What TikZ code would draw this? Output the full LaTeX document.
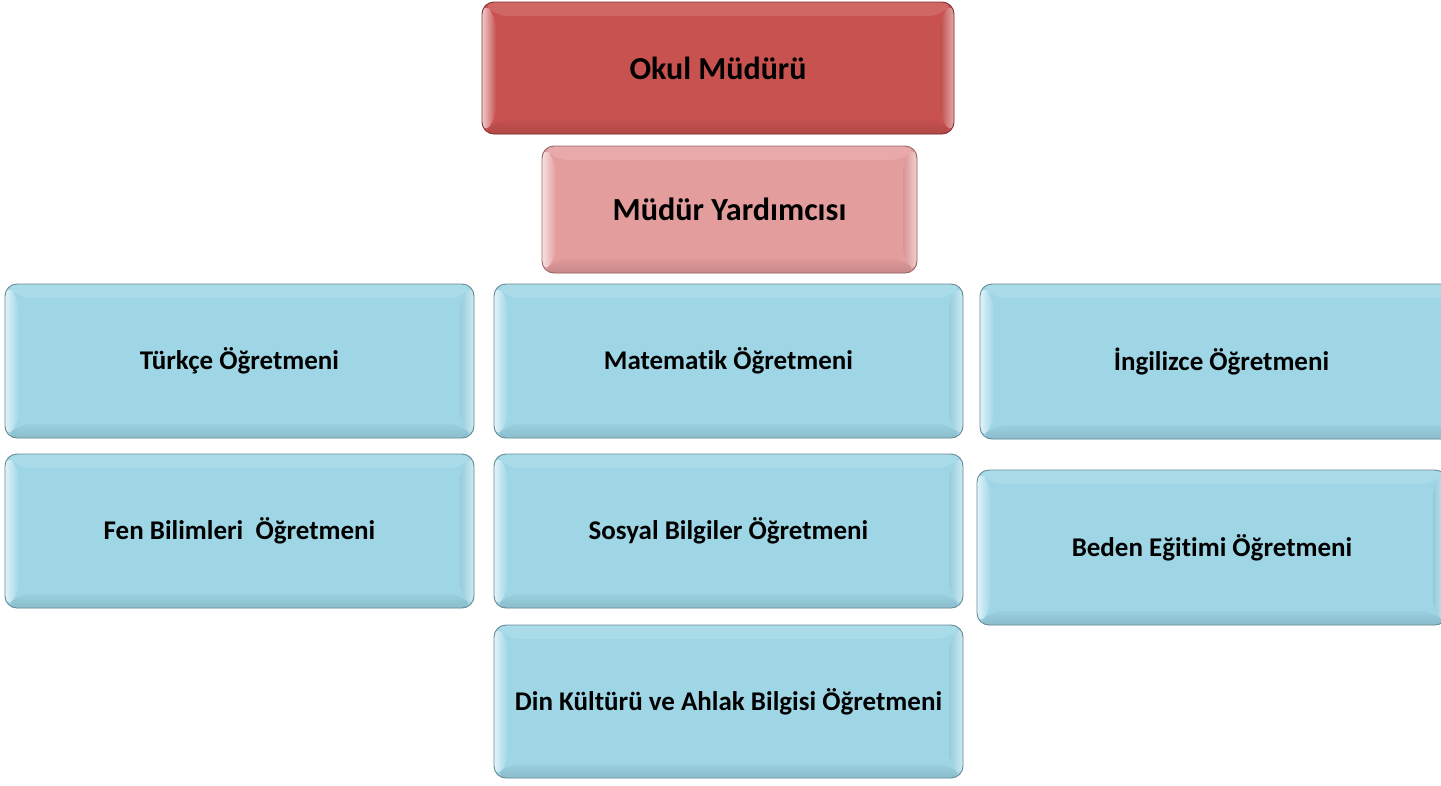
\documentclass[tikz,border=0pt]{standalone}
\usepackage{fontspec}
\setmainfont{Carlito}[RawFeature={-liga;-dlig;-clig}]
\usetikzlibrary{calc}
\definecolor{redbox}{RGB}{200,82,80}
\definecolor{pinkbox}{RGB}{228,157,157}
\definecolor{bluebox}{RGB}{158,214,230}
\tikzset{
  bevel/.style={rectangle, rounded corners=12pt, fill=#1, draw=#1!65!black, line width=0.9pt,
    inner sep=0pt, font=\bfseries,
    path picture={
      \path (path picture bounding box.south west) coordinate (pSW)
            (path picture bounding box.north east) coordinate (pNE)
            (path picture bounding box.north west) coordinate (pNW)
            (path picture bounding box.south east) coordinate (pSE);
      \fill[#1!88!white] (pNW) -- (pNE) -- ($(pNE)+(-14,14)$) -- ($(pNW)+(14,14)$) -- cycle;
      \shade[left color=white!70!#1, right color=#1] (pNW) -- (pSW) -- ($(pSW)+(14,-14)$) -- ($(pNW)+(14,14)$) -- cycle;
      \shade[left color=#1!95!black, right color=white!50!#1] (pNE) -- (pSE) -- ($(pSE)+(-14,-14)$) -- ($(pNE)+(-14,14)$) -- cycle;
      \shade[top color=#1!97!black, bottom color=#1!88!black] (pSW) -- (pSE) -- ($(pSE)+(-14,-14)$) -- ($(pSW)+(14,-14)$) -- cycle;
    }},
  chief/.style={bevel=redbox, font=\fontsize{32}{36}\selectfont\bfseries},
  deputy/.style={bevel=pinkbox, font=\fontsize{32.2}{36}\selectfont\bfseries},
  teacher/.style={bevel=bluebox, font=\fontsize{27}{30}\selectfont\bfseries}
}
\begin{document}
\begin{tikzpicture}[x=1pt, y=-1pt]
  \clip (0,0) rectangle (1441,785);
  \fill[white] (0,0) rectangle (1441,785);
  \node[chief, minimum width=472pt, minimum height=132pt] (okul) at (718,68) {Okul Müdürü};
  \node[deputy, minimum width=375pt, minimum height=127pt] (yard) at (729.5,209.5) {Müdür Yardımcısı};
  \node[teacher, minimum width=469pt, minimum height=154pt] (turkce) at (239.5,361) {Türkçe Öğretmeni};
  \node[teacher, minimum width=469pt, minimum height=154pt] (mat) at (728.5,361) {Matematik Öğretmeni};
  \node[teacher, minimum width=483pt, minimum height=155pt] (ing) at (1221.5,361.5) {İngilizce Öğretmeni};
  \node[teacher, minimum width=469pt, minimum height=154pt] (fen) at (239.5,531) {Fen Bilimleri\ \ Öğretmeni};
  \node[teacher, minimum width=469pt, minimum height=154pt] (sos) at (728.5,531) {Sosyal Bilgiler Öğretmeni};
  \node[teacher, minimum width=470pt, minimum height=155pt] (beden) at (1212,547.5) {Beden Eğitimi Öğretmeni};
  \node[teacher, minimum width=469pt, minimum height=153pt] (din) at (728.5,701.5) {Din Kültürü ve Ahlak Bilgisi Öğretmeni};
\end{tikzpicture}
\end{document}
